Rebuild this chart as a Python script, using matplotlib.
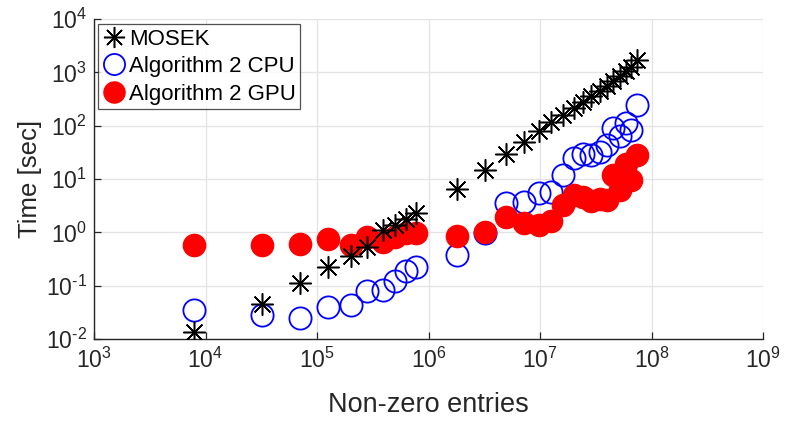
import matplotlib
matplotlib.use("Agg")
import matplotlib.pyplot as plt
from matplotlib.ticker import FixedLocator, FuncFormatter, NullLocator
import numpy as np

plt.rcParams['font.family'] = ['Liberation Sans', 'DejaVu Sans']
plt.rcParams['mathtext.fontset'] = 'custom'
plt.rcParams['mathtext.rm'] = 'Liberation Sans'
plt.rcParams['mathtext.it'] = 'Liberation Sans:italic'
plt.rcParams['mathtext.bf'] = 'Liberation Sans:bold'

# Non-zero entries (shared by all series)
nnz = [7.9e3, 3.2e4, 7.1e4, 1.26e5, 2.0e5, 2.8e5, 3.9e5, 5.0e5, 6.3e5, 7.8e5,
       1.8e6, 3.2e6, 5.0e6, 7.2e6, 9.8e6, 1.26e7, 1.62e7, 2.0e7, 2.45e7, 2.87e7,
       3.45e7, 4.0e7, 4.5e7, 5.2e7, 5.9e7, 6.6e7, 7.4e7]

mosek = [0.0135, 0.045, 0.114, 0.22, 0.36, 0.52, 1.1, 1.4, 1.8, 2.3,
         6.5, 14.8, 29, 49, 80, 115, 160, 218, 280, 360,
         450, 560, 700, 850, 1050, 1250, 1700]

cpu = [0.035, 0.028, 0.0245, 0.040, 0.044, 0.079, 0.082, 0.122, 0.19, 0.22,
       0.38, 0.96, 3.6, 3.7, 5.4, 5.8, 12, 25, 30, 28,
       32, 44, 90, 63, 111, 83, 245]

gpu = [0.59, 0.58, 0.60, 0.74, 0.59, 0.81, 0.67, 0.83, 0.96, 0.99,
       0.87, 1.03, 1.97, 1.52, 1.38, 1.6, 3.2, 5.0, 4.5, 3.8,
       4.3, 4.1, 12, 6.2, 19, 9.6, 28]

labels = ['MOSEK', 'Algorithm 2 CPU', 'Algorithm 2 GPU']
xticks = [1e3, 1e4, 1e5, 1e6, 1e7, 1e8, 1e9]
yticks = [1e-2, 1e-1, 1e0, 1e1, 1e2, 1e3, 1e4]

W, H = 785, 423
fig = plt.figure(figsize=(W / 100, H / 100), dpi=100)
ax = fig.add_axes([94 / W, (H - 339) / H, (763 - 94) / W, (339 - 19) / H])

txt = '#262626'
ax.plot(nnz, mosek, linestyle='none', marker=(8, 2, 0), ms=16, mew=1.1,
        color='black', label=labels[0], zorder=5)
ax.plot(nnz, cpu, linestyle='none', marker='o', ms=16, mew=1.3,
        mfc='none', mec='blue', label=labels[1], zorder=3)
ax.plot(nnz, gpu, linestyle='none', marker='o', ms=16, mew=1.0,
        mfc='red', mec='red', label=labels[2], zorder=4)

ax.set_xscale('log')
ax.set_yscale('log')
ax.set_xlim(xticks[0], xticks[-1])
ax.set_ylim(yticks[0], yticks[-1])
ax.xaxis.set_major_locator(FixedLocator(xticks))
ax.yaxis.set_major_locator(FixedLocator(yticks))
ax.xaxis.set_minor_locator(NullLocator())
ax.yaxis.set_minor_locator(NullLocator())


def fmt(v, pos):
    e = int(round(np.log10(v)))
    if e < 0:
        return r'$10^{\text{-}%d}$' % (-e)
    return r'$10^{%d}$' % e


ax.xaxis.set_major_formatter(FuncFormatter(fmt))
ax.yaxis.set_major_formatter(FuncFormatter(fmt))

ax.grid(True, which='major', color='#e3e3e3', linewidth=0.9)
ax.set_axisbelow(True)
for s in ['top', 'right']:
    ax.spines[s].set_visible(False)
for s in ['left', 'bottom']:
    ax.spines[s].set_color(txt)
    ax.spines[s].set_linewidth(1.0)

ax.tick_params(axis='both', direction='in', length=5, width=0.9, colors=txt,
               labelsize=16.5, labelcolor=txt)
ax.tick_params(axis='x', pad=6)
ax.tick_params(axis='y', pad=5)

ax.set_xlabel('Non-zero entries', fontsize=19.5, color=txt, labelpad=14)
ax.set_ylabel('Time [sec]', fontsize=18.5, color=txt, labelpad=3)

leg = ax.legend(loc='upper left', bbox_to_anchor=(0.006, 0.984), borderaxespad=0,
                fontsize=16, frameon=True, fancybox=False, edgecolor='#262626',
                handlelength=1.0, handletextpad=0.2, borderpad=0.2,
                labelspacing=0.3, markerscale=0.95)
leg.get_frame().set_linewidth(0.9)

fig.savefig('out.png', dpi=100)
